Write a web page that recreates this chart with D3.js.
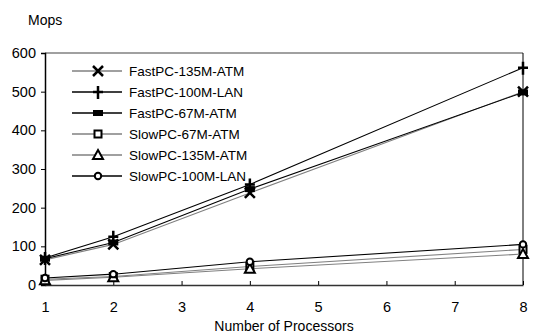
<!DOCTYPE html>
<html><head><meta charset="utf-8">
<script src="https://cdn.jsdelivr.net/npm/d3@7"></script>
<style>body{margin:0;background:#fff}svg text{font-family:Arial,"Liberation Sans",sans-serif}</style>
</head><body>
<svg id="c" width="533" height="335"></svg>
<script>
const procs = [1, 2, 4, 8];
const xTicks = [1, 2, 3, 4, 5, 6, 7, 8];
const yTicks = [0, 100, 200, 300, 400, 500, 600];
const seriesNames = ["FastPC-135M-ATM","FastPC-100M-LAN","FastPC-67M-ATM","SlowPC-67M-ATM","SlowPC-135M-ATM","SlowPC-100M-LAN"];
const fast135 = [65, 105, 238, 500];
const fast100 = [70, 125, 260, 562];
const fast67  = [68, 110, 248, 498];
const slow67  = [15, 22, 48, 92];
const slow135 = [12, 20, 42, 80];
const slow100 = [18, 28, 60, 105];
const seriesValues = [fast135, fast100, fast67, slow67, slow135, slow100];
const lineColors = ["#808080","#000","#000","#808080","#808080","#000"];
const markerTypes = ["x","plus","bar","square","triangle","circle"];

const svg = d3.select("#c");
const L=45,R=523,T=53,B=285;
const x = d3.scaleLinear().domain([1,8]).range([L,R]);
const y = d3.scaleLinear().domain([0,600]).range([B,T]);

// frame
svg.append("line").attr("x1",L).attr("x2",R).attr("y1",T).attr("y2",T).attr("stroke","#808080").attr("stroke-width",1.5);
svg.append("line").attr("x1",R).attr("x2",R).attr("y1",T).attr("y2",B).attr("stroke","#000").attr("stroke-width",1);

const yAx = svg.append("g").attr("transform",`translate(${L},0)`)
  .call(d3.axisLeft(y).tickValues(yTicks).tickSize(4).tickPadding(5).tickFormat(d3.format("d")));
yAx.select(".domain").attr("stroke","#000").attr("stroke-width",1.5);
yAx.selectAll("text").attr("font-size",14.5).attr("fill","#000");
const xAx = svg.append("g").attr("transform",`translate(0,${B})`)
  .call(d3.axisBottom(x).tickValues(xTicks).tickSizeInner(-4).tickSizeOuter(0).tickPadding(17).tickFormat(d3.format("d")));
xAx.select(".domain").attr("stroke","#333").attr("stroke-width",1.5);
xAx.selectAll("text").attr("font-size",14.5).attr("fill","#000");

svg.append("text").attr("x",28).attr("y",25).attr("font-size",14).text("Mops");
svg.append("text").attr("x",284).attr("y",331).attr("text-anchor","middle").attr("font-size",14).text("Number of Processors");

function marker(g, type, cx, cy){
  if(type==="x"){
    g.append("path").attr("d",`M${cx-5},${cy-5}L${cx+5},${cy+5}M${cx+5},${cy-5}L${cx-5},${cy+5}`).attr("stroke","#000").attr("stroke-width",2.5).attr("fill","none");
  } else if(type==="plus"){
    g.append("path").attr("d",`M${cx-5},${cy}L${cx+5},${cy}M${cx},${cy-6}L${cx},${cy+7}`).attr("stroke","#000").attr("stroke-width",2.5).attr("fill","none");
  } else if(type==="bar"){
    g.append("rect").attr("x",cx-5).attr("y",cy-3).attr("width",10).attr("height",6).attr("fill","#000");
  } else if(type==="square"){
    g.append("rect").attr("x",cx-3.5).attr("y",cy-3.5).attr("width",7).attr("height",7).attr("fill","#fff").attr("stroke","#000").attr("stroke-width",2);
  } else if(type==="triangle"){
    g.append("path").attr("d",`M${cx},${cy-5}L${cx+5},${cy+4}L${cx-5},${cy+4}Z`).attr("fill","#fff").attr("stroke","#000").attr("stroke-width",2);
  } else if(type==="circle"){
    g.append("circle").attr("cx",cx).attr("cy",cy).attr("r",3.2).attr("fill","#fff").attr("stroke","#000").attr("stroke-width",2);
  }
}

const line = d3.line().x((d,i)=>x(procs[i])).y(d=>y(d));
seriesValues.forEach((vals,si)=>{
  svg.append("path").attr("d",line(vals)).attr("fill","none").attr("stroke",lineColors[si]).attr("stroke-width",1.1);
});
seriesValues.forEach((vals,si)=>{
  const g = svg.append("g");
  vals.forEach((v,i)=>marker(g, markerTypes[si], x(procs[i]), y(v)));
});

// legend
const lg = svg.append("g");
seriesNames.forEach((n,i)=>{
  const yy = 71 + i*21;
  lg.append("line").attr("x1",72).attr("x2",122).attr("y1",yy).attr("y2",yy).attr("stroke",lineColors[i]).attr("stroke-width",1.3);
  marker(lg, markerTypes[i], 98, yy);
  lg.append("text").attr("x",129).attr("y",yy+5).attr("font-size",13.5).text(n);
});
</script>
</body></html>
